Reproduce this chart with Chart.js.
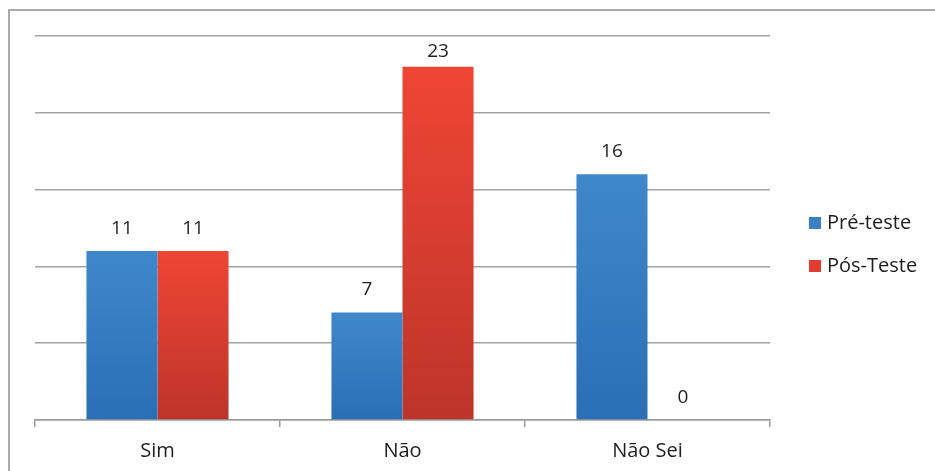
<!DOCTYPE html>
<html>
<head>
<meta charset="utf-8">
<script src="https://cdn.jsdelivr.net/npm/chart.js@4/dist/chart.umd.min.js"></script>
<style>
  html, body { margin: 0; padding: 0; background: #fff; }
  #wrap { position: relative; width: 935px; height: 471px; overflow: hidden; }
  #frame {
    position: absolute; left: 8px; top: 9px; width: 960px; height: 500px;
    border-left: 2px solid #ababab; border-top: 2px solid #ababab;
  }
  canvas { position: absolute; left: 0; top: 0; }
</style>
</head>
<body>
<div id="wrap">
  <div id="frame"></div>
  <canvas id="grafico" width="935" height="471"></canvas>
</div>
<script>
// ——— Datos ——————————————————————————————————————————
const categorias = ["Sim", "Não", "Não Sei"];
const preTeste = [11, 7, 16];
const posTeste = [11, 23, 0];
const nomesSeries = ["Pré-teste", "Pós-Teste"];
const eixoMax = 25;
const eixoPasso = 5;

const FONTE = "'Open Sans', sans-serif";

// degradê vertical por barra (topo claro, base escura)
function degrade(topo, base) {
    return (ctx) => {
        const chart = ctx.chart;
        const y = chart.scales.y;
        if (!y || ctx.parsed == null) return topo;
        const y0 = y.getPixelForValue(0);
        const y1 = y.getPixelForValue(ctx.parsed.y);
        if (!isFinite(y0) || !isFinite(y1) || y0 === y1) return topo;
        const g = chart.ctx.createLinearGradient(0, y1, 0, y0);
        g.addColorStop(0, topo);
        g.addColorStop(1, base);
        return g;
    };
}

// valores acima das barras
const rotulosValores = {
    id: "rotulosValores",
    afterDatasetsDraw(chart) {
        const { ctx, chartArea } = chart;
        ctx.save();
        ctx.font = "19px " + FONTE;
        ctx.fillStyle = "#1e1e1e";
        ctx.textAlign = "center";
        ctx.textBaseline = "bottom";
        chart.data.datasets.forEach((ds, i) => {
            chart.getDatasetMeta(i).data.forEach((bar, j) => {
                const y = Math.max(bar.y - 13, chartArea.top + 25);
                ctx.fillText(String(ds.data[j]), bar.x, y);
            });
        });
        ctx.restore();
    },
};

// legenda à direita
const legenda = {
    id: "legenda",
    afterDraw(chart) {
        const { ctx } = chart;
        ctx.save();
        ctx.font = "20px " + FONTE;
        ctx.textBaseline = "middle";
        ctx.textAlign = "left";
        chart.data.datasets.forEach((ds, i) => {
            const cy = 223 + i * 43;
            ctx.fillStyle = ds.legendColor;
            ctx.fillRect(809, cy - 6, 12, 12);
            ctx.fillStyle = "#1e1e1e";
            ctx.fillText(ds.label, 827, cy);
        });
        ctx.restore();
    },
};

document.addEventListener("DOMContentLoaded", () => {
    const ctx = document.getElementById("grafico").getContext("2d");
    new Chart(ctx, {
        type: "bar",
        data: {
            labels: categorias,
            datasets: [
                {
                    label: nomesSeries[0],
                    data: preTeste,
                    backgroundColor: degrade("#3f87cb", "#2a6fb6"),
                    legendColor: "#3a80c6",
                },
                {
                    label: nomesSeries[1],
                    data: posTeste,
                    backgroundColor: degrade("#ef4535", "#bd342a"),
                    legendColor: "#e23c31",
                },
            ],
        },
        options: {
            responsive: false,
            animation: false,
            layout: { padding: { left: 35, right: 165, top: 36, bottom: 0 } },
            datasets: {
                bar: { categoryPercentage: 0.58, barPercentage: 1.0, borderWidth: 0 },
            },
            plugins: {
                legend: { display: false },
                tooltip: { enabled: false },
            },
            scales: {
                x: {
                    afterFit: (scale) => { scale.height = 51; },
                    grid: {
                        offset: true,
                        drawOnChartArea: false,
                        drawTicks: true,
                        tickLength: 7,
                        color: "#9a9a9a",
                        lineWidth: 1.5,
                    },
                    border: { display: true, color: "#9a9a9a", width: 1.5 },
                    ticks: {
                        color: "#1e1e1e",
                        padding: 12,
                        font: { family: FONTE, size: 20 },
                    },
                },
                y: {
                    min: 0,
                    max: eixoMax,
                    ticks: { display: false, stepSize: eixoPasso },
                    border: { display: false },
                    grid: { drawTicks: false, color: "#a3a3a3", lineWidth: 1.5 },
                },
            },
        },
        plugins: [rotulosValores, legenda],
    });
});
</script>
</body>
</html>
